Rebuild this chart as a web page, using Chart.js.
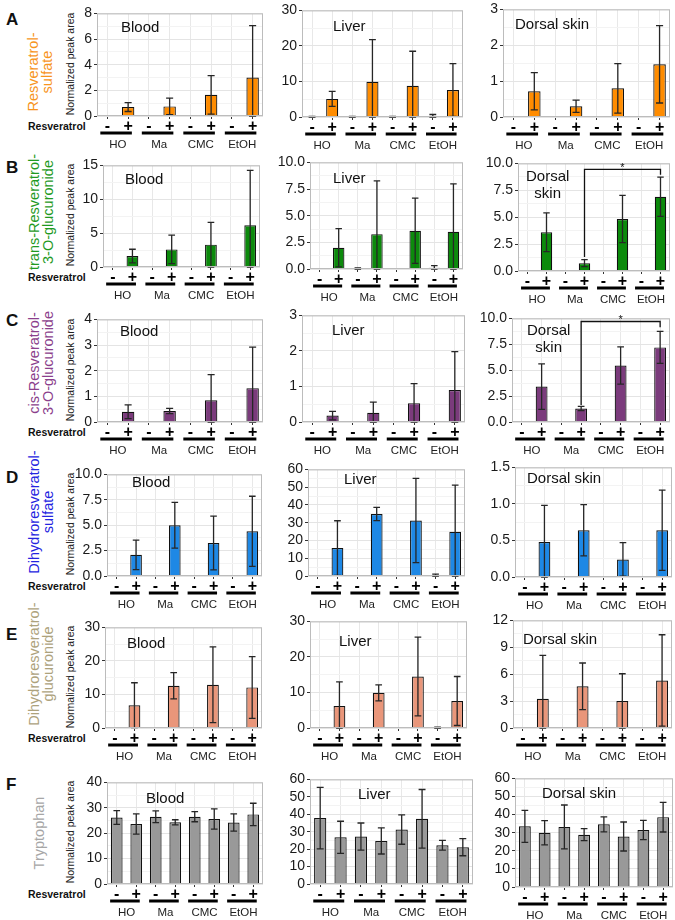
<!DOCTYPE html>
<html>
<head>
<meta charset="utf-8">
<script src="https://cdn.jsdelivr.net/npm/chart.js@4.4.1/dist/chart.umd.min.js"></script>
<style>
body { margin: 0; background: #fff; font-family: "Liberation Sans", Arial, sans-serif; }
#fig { position: relative; width: 675px; height: 920px; overflow: hidden; }
.box { position: absolute; }
.txt { position: absolute; white-space: pre; color: #111; }
.rot { transform: translate(-50%, -50%) rotate(-90deg); text-align: center; }
</style>
</head>
<body>
<div id="fig"></div>
<script>
// categories
const groups = ['HO', 'Ma', 'CMC', 'EtOH'];
const treatLabels = ['-', '+', '-', '+', '-', '+', '-', '+'];

// A: resveratrol-sulfate
const aBloodTicks = [0, 2, 4, 6, 8];
const aBloodMean = [null, 0.7, null, 0.75, null, 1.65, null, 3.0];
const aBloodSd = [null, 0.35, null, 0.65, null, 1.5, null, 4.05];
const aLiverTicks = [0, 10, 20, 30];
const aLiverMean = [0, 5.1, 0, 9.9, 0, 8.8, 0.3, 7.6];
const aLiverSd = [0.15, 2.1, 0.15, 11.9, 0.15, 9.7, 0.4, 7.4];
const aSkinTicks = [0, 1, 2, 3];
const aSkinMean = [null, 0.72, null, 0.3, null, 0.8, null, 1.47];
const aSkinSd = [null, 0.52, null, 0.17, null, 0.69, null, 1.08];

// B: trans-resveratrol-3-O-glucuronide
const bBloodTicks = [0, 5, 10, 15];
const bBloodMean = [null, 1.62, null, 2.6, null, 3.3, null, 6.16];
const bBloodSd = [null, 1.0, null, 2.1, null, 3.3, null, 8.1];
const bLiverTicks = [0, 2.5, 5, 7.5, 10];
const bLiverMean = [null, 1.99, 0.05, 3.27, null, 3.58, 0.12, 3.49];
const bLiverSd = [null, 1.8, 0.05, 5.0, null, 3.06, 0.2, 4.5];
const bSkinTicks = [0, 2.5, 5, 7.5, 10];
const bSkinMean = [null, 3.6, null, 0.73, null, 4.83, null, 6.9];
const bSkinSd = [null, 1.8, null, 0.33, null, 2.2, null, 1.82];
const bSkinBracket = [3, 7, 9.45, 1.3, 8.95];

// C: cis-resveratrol-3-O-glucuronide
const cBloodTicks = [0, 1, 2, 3, 4];
const cBloodMean = [null, 0.4, null, 0.43, null, 0.85, null, 1.32];
const cBloodSd = [null, 0.27, null, 0.1, null, 1.0, null, 1.6];
const cLiverTicks = [0, 1, 2, 3];
const cLiverMean = [null, 0.18, null, 0.26, null, 0.53, null, 0.9];
const cLiverSd = [null, 0.12, null, 0.3, null, 0.55, null, 1.08];
const cSkinTicks = [0, 2.5, 5, 7.5, 10];
const cSkinMean = [null, 3.42, null, 1.3, null, 5.45, null, 7.2];
const cSkinSd = [null, 2.2, null, 0.2, null, 1.8, null, 1.55];
const cSkinBracket = [3, 7, 9.7, 1.65, 9.15];

// D: dihydroresveratrol-sulfate
const dBloodTicks = [0, 2.5, 5, 7.5, 10];
const dBloodMean = [null, 2.08, null, 5.0, null, 3.25, null, 4.4];
const dBloodSd = [null, 1.45, null, 2.25, null, 2.65, null, 3.45];
const dLiverTicks = [0, 10, 20, 30, 40, 50, 60];
const dLiverMean = [null, 15.7, null, 34.9, null, 31.2, 0.5, 24.9];
const dLiverSd = [null, 15.4, null, 3.7, null, 23.7, 0.6, 26.3];
const dSkinTicks = [0, 0.5, 1, 1.5];
const dSkinMean = [null, 0.48, null, 0.64, null, 0.24, null, 0.64];
const dSkinSd = [null, 0.5, null, 0.35, null, 0.23, null, 0.55];

// E: dihydroresveratrol-glucuronide
const eBloodTicks = [0, 10, 20, 30];
const eBloodMean = [null, 6.8, null, 12.6, null, 12.9, null, 12.1];
const eBloodSd = [null, 6.7, null, 3.9, null, 11.3, null, 9.2];
const eLiverTicks = [0, 10, 20, 30];
const eLiverMean = [null, 6.2, null, 9.9, null, 14.5, 0.1, 7.6];
const eLiverSd = [null, 6.8, null, 2.25, null, 11.1, 0.15, 6.9];
const eSkinTicks = [0, 3, 6, 9, 12];
const eSkinMean = [null, 3.25, null, 4.65, null, 3.0, null, 5.3];
const eSkinSd = [null, 4.85, null, 2.6, null, 3.05, null, 5.1];

// F: tryptophan
const fBloodTicks = [0, 10, 20, 30, 40];
const fBloodMean = [26.2, 23.6, 26.5, 24.3, 26.5, 25.6, 24.2, 27.4];
const fBloodSd = [2.7, 4.0, 2.3, 1.0, 2.0, 4.0, 3.4, 4.4];
const fLiverTicks = [0, 10, 20, 30, 40, 50, 60];
const fLiverMean = [37.8, 26.8, 27.2, 24.7, 31.2, 37.4, 22.2, 21.1];
const fLiverSd = [17.6, 9.2, 7.8, 7.5, 8.4, 16.8, 2.8, 4.9];
const fSkinTicks = [0, 10, 20, 30, 40, 50, 60];
const fSkinMean = [33.5, 30.0, 33.2, 28.9, 34.6, 27.9, 31.5, 38.6];
const fSkinSd = [8.8, 6.7, 12.1, 3.3, 4.1, 8.0, 5.3, 8.2];

const FONT = '"Liberation Sans", Arial, sans-serif';

// layout: plot rectangles [left, top, right, bottom] and title anchors
const rows = [
  { letter: 'A', name: 'Resveratrol-\nsulfate', fill: '#ff8c00', ink: '#f7941d', ly: 20, nx: 40, ny: 72,
    panels: [
      { rect: [97, 11, 263, 116], title: 'Blood', tx: 121, ty: 26, ticks: aBloodTicks, mean: aBloodMean, sd: aBloodSd },
      { rect: [302, 8, 463, 117], title: 'Liver', tx: 333, ty: 25, ticks: aLiverTicks, mean: aLiverMean, sd: aLiverSd },
      { rect: [503, 7, 670, 117], title: 'Dorsal skin', tx: 515, ty: 23, ticks: aSkinTicks, mean: aSkinMean, sd: aSkinSd }
    ] },
  { letter: 'B', name: 'trans-Resveratrol-\n3-O-glucuronide', fill: '#0c8a0c', ink: '#1f9a1f', ly: 168, nx: 41, ny: 212,
    panels: [
      { rect: [103, 163, 260, 267], title: 'Blood', tx: 125, ty: 178, ticks: bBloodTicks, mean: bBloodMean, sd: bBloodSd },
      { rect: [310, 160, 463, 269], title: 'Liver', tx: 333, ty: 177, ticks: bLiverTicks, mean: bLiverMean, sd: bLiverSd },
      { rect: [518, 161, 670, 271], title: 'Dorsal\nskin', tx: 526, ty: 184, ticks: bSkinTicks, mean: bSkinMean, sd: bSkinSd, bracket: bSkinBracket }
    ] },
  { letter: 'C', name: 'cis-Resveratrol-\n3-O-glucuronide', fill: '#7b3b7c', ink: '#8b3f8c', ly: 321, nx: 41, ny: 363,
    panels: [
      { rect: [97, 317, 263, 422], title: 'Blood', tx: 120, ty: 330, ticks: cBloodTicks, mean: cBloodMean, sd: cBloodSd },
      { rect: [302, 313, 465, 422], title: 'Liver', tx: 332, ty: 329, ticks: cLiverTicks, mean: cLiverMean, sd: cLiverSd },
      { rect: [512, 316, 670, 422], title: 'Dorsal\nskin', tx: 527, ty: 338, ticks: cSkinTicks, mean: cSkinMean, sd: cSkinSd, bracket: cSkinBracket }
    ] },
  { letter: 'D', name: 'Dihydroresveratrol-\nsulfate', fill: '#1e88e5', ink: '#2424e0', ly: 478, nx: 41, ny: 512,
    panels: [
      { rect: [107, 472, 262, 576], title: 'Blood', tx: 132, ty: 481, ticks: dBloodTicks, mean: dBloodMean, sd: dBloodSd },
      { rect: [308, 467, 465, 576], title: 'Liver', tx: 344, ty: 478, ticks: dLiverTicks, mean: dLiverMean, sd: dLiverSd },
      { rect: [515, 465, 672, 577], title: 'Dorsal skin', tx: 527, ty: 477, ticks: dSkinTicks, mean: dSkinMean, sd: dSkinSd }
    ] },
  { letter: 'E', name: 'Dihydroresveratrol-\nglucuronide', fill: '#e9967a', ink: '#ada27c', ly: 635, nx: 41, ny: 664,
    panels: [
      { rect: [105, 625, 262, 728], title: 'Blood', tx: 127, ty: 642, ticks: eBloodTicks, mean: eBloodMean, sd: eBloodSd },
      { rect: [310, 619, 467, 728], title: 'Liver', tx: 339, ty: 640, ticks: eLiverTicks, mean: eLiverMean, sd: eLiverSd },
      { rect: [513, 618, 672, 728], title: 'Dorsal skin', tx: 523, ty: 638, ticks: eSkinTicks, mean: eSkinMean, sd: eSkinSd }
    ] },
  { letter: 'F', name: 'Tryptophan', fill: '#999999', ink: '#a6a6a6', ly: 785, nx: 40, ny: 833,
    panels: [
      { rect: [107, 780, 263, 884], title: 'Blood', tx: 146, ty: 797, ticks: fBloodTicks, mean: fBloodMean, sd: fBloodSd },
      { rect: [310, 777, 473, 884], title: 'Liver', tx: 358, ty: 793, ticks: fLiverTicks, mean: fLiverMean, sd: fLiverSd },
      { rect: [515, 776, 673, 887], title: 'Dorsal skin', tx: 542, ty: 792, ticks: fSkinTicks, mean: fSkinMean, sd: fSkinSd }
    ] }
];

const fig = document.getElementById('fig');

function addText(text, css, cls) {
  const d = document.createElement('div');
  d.className = 'txt' + (cls ? ' ' + cls : '');
  d.textContent = text;
  Object.assign(d.style, css);
  fig.appendChild(d);
  return d;
}

// error bars, panel border, brackets, group bars and names
const extras = {
  id: 'extras',
  afterDatasetsDraw(chart, args, opts) {
    const { ctx, chartArea: a, scales: { x, y } } = chart;
    const step = x.getPixelForValue(1) - x.getPixelForValue(0);
    ctx.save();

    ctx.strokeStyle = '#262626';
    ctx.lineWidth = 1.3;
    const cap = step * 0.17;
    opts.mean.forEach((m, i) => {
      const s = opts.sd[i];
      if (m == null || s == null) return;
      const px = x.getPixelForValue(i);
      const top = y.getPixelForValue(m + s);
      const bot = y.getPixelForValue(Math.max(m - s, 0));
      ctx.beginPath();
      ctx.moveTo(px, top); ctx.lineTo(px, bot);
      ctx.moveTo(px - cap, top); ctx.lineTo(px + cap, top);
      ctx.moveTo(px - cap, bot); ctx.lineTo(px + cap, bot);
      ctx.stroke();
    });

    ctx.strokeStyle = '#bcbcbc';
    ctx.lineWidth = 1;
    ctx.strokeRect(a.left + 0.5, a.top + 0.5, a.width - 1, a.height - 1);

    if (opts.bracket) {
      const [i1, i2, h, l1, l2] = opts.bracket;
      const x1 = x.getPixelForValue(i1), x2 = x.getPixelForValue(i2);
      const yh = y.getPixelForValue(h);
      ctx.strokeStyle = '#111';
      ctx.lineWidth = 1.3;
      ctx.beginPath();
      ctx.moveTo(x1, y.getPixelForValue(l1));
      ctx.lineTo(x1, yh);
      ctx.lineTo(x2, yh);
      ctx.lineTo(x2, y.getPixelForValue(l2));
      ctx.stroke();
      ctx.fillStyle = '#111';
      ctx.font = '11px ' + FONT;
      ctx.textAlign = 'center';
      ctx.textBaseline = 'bottom';
      ctx.fillText('*', (x1 + x2) / 2, yh + 4);
    }

    ctx.strokeStyle = '#000';
    ctx.lineWidth = 3;
    ctx.font = '11.5px ' + FONT;
    ctx.textAlign = 'center';
    ctx.textBaseline = 'middle';
    groups.forEach((g, k) => {
      const xm = x.getPixelForValue(2 * k), xp = x.getPixelForValue(2 * k + 1);
      ctx.beginPath();
      ctx.moveTo(xm - step * 0.34, a.bottom + 17);
      ctx.lineTo(xp + step * 0.18, a.bottom + 17);
      ctx.stroke();
      ctx.fillStyle = '#222';
      ctx.fillText(g, (xm + xp) / 2, a.bottom + 29);
    });
    ctx.restore();
  }
};

function isMajor(v, major) {
  const r = v / major;
  return Math.abs(r - Math.round(r)) < 1e-6;
}

function makePanel(p, fill) {
  const [L, T, R, B] = p.rect;
  const yw = 40, xh = 40, padTop = 8, padRight = 3;
  const box = document.createElement('div');
  box.className = 'box';
  box.style.left = (L - yw) + 'px';
  box.style.top = (T - padTop) + 'px';
  const cv = document.createElement('canvas');
  cv.width = R - L + yw + padRight;
  cv.height = B - T + padTop + xh;
  box.appendChild(cv);
  fig.appendChild(box);

  const ticks = p.ticks;
  const major = ticks[1] - ticks[0];
  const dec = ticks.some(t => t % 1 !== 0) ? 1 : 0;

  new Chart(cv, {
    type: 'bar',
    data: {
      labels: treatLabels,
      datasets: [{
        data: p.mean,
        backgroundColor: fill,
        borderColor: '#111',
        borderWidth: 1.2,
        barPercentage: 0.6,
        categoryPercentage: 1
      }]
    },
    options: {
      responsive: false,
      animation: false,
      devicePixelRatio: 1,
      layout: { padding: { top: padTop, right: padRight, left: 0, bottom: 0 } },
      plugins: {
        legend: { display: false },
        tooltip: { enabled: false },
        extras: { mean: p.mean, sd: p.sd, bracket: p.bracket }
      },
      scales: {
        x: {
          offset: true,
          grid: { offset: false, color: '#e8e8e8', tickColor: '#333', tickLength: 3 },
          border: { display: false },
          ticks: { color: '#000', font: { family: FONT, size: 16, weight: 'bold' }, padding: -2, maxRotation: 0, autoSkip: false },
          afterFit: s => { s.height = xh; }
        },
        y: {
          min: ticks[0],
          max: ticks[ticks.length - 1],
          grid: {
            color: c => isMajor(c.tick.value, major) ? '#e4e4e4' : '#f3f3f3',
            tickColor: c => isMajor(c.tick.value, major) ? '#333' : 'rgba(0,0,0,0)',
            tickLength: 3
          },
          border: { display: false },
          ticks: {
            stepSize: major / 2,
            autoSkip: false,
            color: '#1a1a1a',
            padding: 2,
            font: { family: FONT, size: 14 },
            callback: v => isMajor(v, major) ? Number(v).toFixed(dec) : ''
          },
          afterFit: s => { s.width = yw; }
        }
      }
    },
    plugins: [extras]
  });

  addText(p.title, {
    left: p.tx + 'px', top: p.ty + 'px', fontSize: '15px', lineHeight: '17px',
    transform: 'translateY(-50%)', textAlign: 'center'
  });
}

rows.forEach(r => {
  addText(r.letter, { left: '6px', top: (r.ly - 10) + 'px', fontSize: '17px', fontWeight: 'bold', lineHeight: '20px' });
  addText(r.name, { left: r.nx + 'px', top: r.ny + 'px', fontSize: '14.5px', lineHeight: '13.5px', color: r.ink }, 'rot');
  const [L, T, R, B] = r.panels[0].rect;
  addText('Normalized peak area', { left: '70px', top: ((T + B) / 2) + 'px', fontSize: '10.5px', lineHeight: '12px', color: '#222' }, 'rot');
  addText('Resveratrol', { left: '28px', top: (B + 4) + 'px', fontSize: '10.5px', fontWeight: 'bold', lineHeight: '12px' });
  r.panels.forEach(p => makePanel(p, r.fill));
});
</script>
</body>
</html>
